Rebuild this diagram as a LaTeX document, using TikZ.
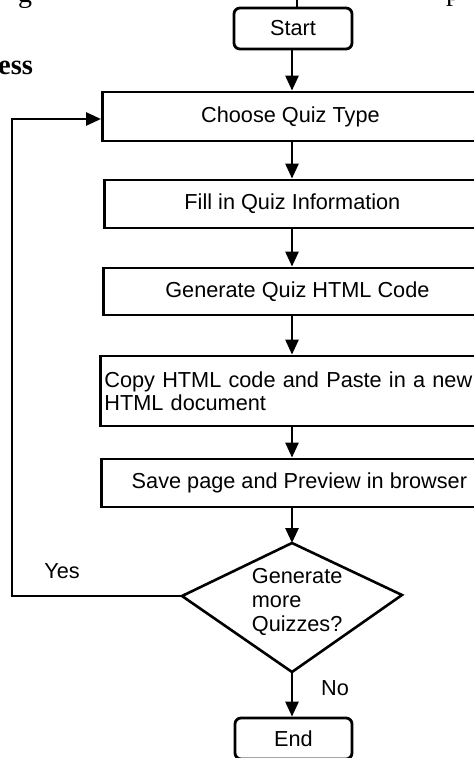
\documentclass[tikz,border=0pt]{standalone}
\usepackage{fontspec}
\setmainfont{Liberation Sans}
\newfontfamily\pageserif{Liberation Serif}
\usetikzlibrary{arrows.meta,calc}

\tikzset{
  boxfont/.style={font=\fontsize{21.7}{23.3}\selectfont},
  stepbox/.style={draw, line width=2.8pt, rectangle, inner sep=0pt, boxfont},
  termbox/.style={draw, line width=2.8pt, rectangle, rounded corners=6pt, inner sep=0pt, boxfont},
  conn/.style={line width=2.7pt},
  arr/.style={conn, -{Triangle[length=15pt,width=13pt]}},
  lbl/.style={inner sep=0pt, boxfont},
}

\begin{document}
\begin{tikzpicture}[x=1pt, y=-1pt]
  \useasboundingbox (0,0) rectangle (474,758);
  \clip (0,0) rectangle (474,758);

  % fragments of the surrounding page text
  \node[anchor=base west, inner sep=0pt, font=\pageserif\fontsize{28}{30}\selectfont] (pg) at (18,2) {g};
  \node[anchor=base west, inner sep=0pt, font=\pageserif\fontsize{28}{30}\selectfont] (pp) at (446,0) {p};
  \node[anchor=base west, inner sep=0pt, font=\pageserif\bfseries\fontsize{28.5}{30}\selectfont] (head) at (-2,74) {ess};

  % vertical axis of the flow
  \coordinate (axis) at (292,0);

  % terminals and process steps
  \node[termbox, minimum width=118pt, minimum height=41pt] (start) at (293,28.5) {Start};
  \node[stepbox, anchor=west, minimum width=376pt, minimum height=49pt] (choose) at (101,116.5) {Choose Quiz Type};
  \node[stepbox, anchor=west, minimum width=376pt, minimum height=48pt] (fill) at (103,204) {Fill in Quiz Information};
  \node[stepbox, anchor=west, minimum width=388pt, minimum height=47pt] (gen) at (102,291.5) {Generate Quiz HTML Code};
  \node[stepbox, anchor=west, minimum height=70pt, inner xsep=4pt, text width=384pt, align=left] (copy) at (99,391)
    {Copy HTML code and Paste in a new\\HTML document};
  \node[stepbox, anchor=west, minimum width=396pt, minimum height=48pt] (save) at (100,483) {Save page and Preview in browser};
  \node[termbox, minimum width=117pt, minimum height=41pt] (endn) at (293.5,738.5) {End};

  % decision
  \coordinate (dT) at (292,543);
  \coordinate (dL) at (182,596);
  \coordinate (dR) at (402,595);
  \coordinate (dB) at (292,672);
  \draw[line width=2.6pt, line join=miter] (dT) -- (dR) -- (dB) -- (dL) -- cycle;
  \node[anchor=base west, inner sep=0pt, text width=140pt, align=left,
        font=\fontsize{21.7}{24.2}\selectfont] (ask) at (251.7,583.3)
    {Generate\\more\\Quizzes?};

  % short stroke above the start terminal
  \coordinate (topedge) at (297,0);
  \draw[line width=2pt] (topedge) -- (topedge |- start.north);

  % connectors
  \draw[arr] (axis |- start.south) -- (axis |- choose.north);
  \draw[arr] (axis |- choose.south) -- (axis |- fill.north);
  \draw[arr] (axis |- fill.south) -- (axis |- gen.north);
  \draw[arr] (axis |- gen.south) -- (axis |- copy.north);
  \draw[arr] (axis |- copy.south) -- (axis |- save.north);
  \draw[arr] (axis |- save.south) -- (dT);
  \draw[arr] (dB) -- (axis |- endn.north);

  % loop back on "Yes"
  \coordinate (loopc) at (12,119);
  \draw[arr] (dL) -| (loopc) -- (choose.west |- loopc);

  \node[lbl] (yes) at (62,571) {Yes};
  \node[lbl] (no) at (335,688) {No};
\end{tikzpicture}
\end{document}
